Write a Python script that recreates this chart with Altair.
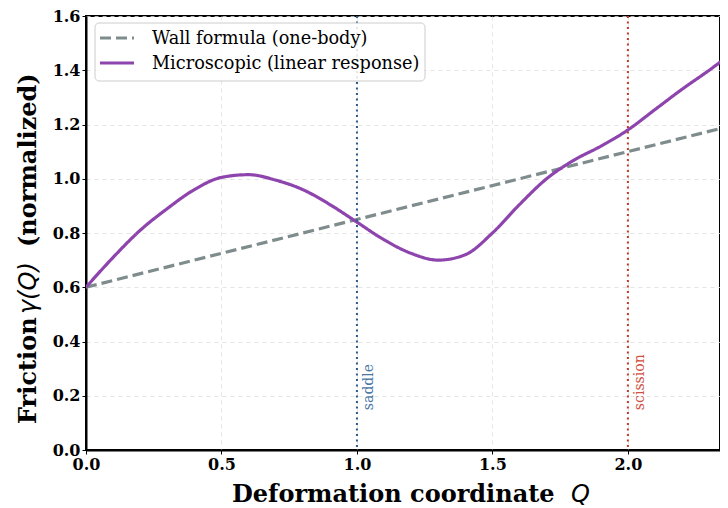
import altair as alt
import pandas as pd

# ---- data ----
micro_x = [0.0, 0.1, 0.2, 0.3, 0.4, 0.5, 0.6, 0.7, 0.8, 0.9, 1.0, 1.1, 1.2, 1.3,
           1.4, 1.5, 1.6, 1.7, 1.8, 1.9, 2.0, 2.1, 2.2, 2.3, 2.37]
micro_y = [0.60, 0.71, 0.81, 0.89, 0.96, 1.005, 1.015, 0.995, 0.96, 0.905, 0.84,
           0.775, 0.725, 0.70, 0.72, 0.80, 0.905, 1.00, 1.068, 1.12, 1.18, 1.255,
           1.33, 1.40, 1.452]
wall_x = [0.0, 2.37]
wall_y = [0.60, 1.1925]

series_names = ["Wall formula (one-body)", "Microscopic (linear response)"]
series_colors = ["#7f8c8d", "#8e44ad"]
series_dash = [[11, 5], [1, 0]]

marker_x = [1.0, 2.0]
marker_labels = ["saddle", "scission"]
marker_line_colors = ["#2c5a88", "#c0392b"]
marker_text_colors = ["#4a77a6", "#d0503f"]

x_ticks = [0.0, 0.5, 1.0, 1.5, 2.0]
y_ticks = [0.0, 0.2, 0.4, 0.6, 0.8, 1.0, 1.2, 1.4, 1.6]

# title pieces: (text, font, weight, style)
x_title_parts = [("Deformation coordinate", "DejaVu Serif", "bold", "normal"),
                 ("Q", "DejaVu Sans", "normal", "italic")]
y_title_parts = [("Friction", "DejaVu Serif", "bold", "normal"),
                 ("γ(Q)", "DejaVu Sans", "normal", "italic"),
                 ("(normalized)", "DejaVu Serif", "bold", "normal")]

W, H = 634, 434
TITLE_SIZE = 24

rows = []
for x, y in zip(wall_x, wall_y):
    rows.append({"Q": x, "gamma": y, "series": series_names[0]})
for x, y in zip(micro_x, micro_y):
    rows.append({"Q": x, "gamma": y, "series": series_names[1]})
df = pd.DataFrame(rows)

markers = pd.DataFrame({
    "Q": marker_x,
    "label": marker_labels,
    "lc": marker_line_colors,
    "tc": marker_text_colors,
})
markers["Qtext"] = markers["Q"] + 0.045
markers["ytext"] = 0.147

xscale = alt.Scale(domain=[0, 2.34], nice=False, zero=False)
yscale = alt.Scale(domain=[0, 1.6], nice=False)

xaxis = alt.Axis(values=x_ticks, format=".1f", title=None, grid=True)
yaxis = alt.Axis(values=y_ticks, format=".1f", title=None, grid=True)

lines = alt.Chart(df).mark_line(clip=True, strokeWidth=3.2, interpolate="monotone").encode(
    x=alt.X("Q:Q", scale=xscale, axis=xaxis),
    y=alt.Y("gamma:Q", scale=yscale, axis=yaxis),
    color=alt.Color("series:N", scale=alt.Scale(domain=series_names, range=series_colors),
                    legend=None),
    strokeDash=alt.StrokeDash("series:N", scale=alt.Scale(domain=series_names, range=series_dash),
                              legend=None),
    order=alt.Order("Q:Q"),
)

rules = alt.Chart(markers).mark_rule(strokeDash=[2, 3.5], strokeWidth=2).encode(
    x=alt.X("Q:Q", scale=xscale),
    color=alt.Color("lc:N", scale=None),
)

labels = alt.Chart(markers).mark_text(angle=270, align="left", baseline="middle",
                                      font="DejaVu Serif", fontSize=14).encode(
    x=alt.X("Qtext:Q", scale=xscale),
    y=alt.Y("ytext:Q", scale=yscale),
    text="label:N",
    color=alt.Color("tc:N", scale=None),
)

# ---- legend box (layout in pixels of the plot area) ----
one = pd.DataFrame({"k": [0]})
legend_layers = [
    alt.Chart(one).mark_rect(fill="white", fillOpacity=0.85, stroke="#cccccc",
                             strokeWidth=1, cornerRadius=4).encode(
        x=alt.value(9), x2=alt.value(339), y=alt.value(7), y2=alt.value(65))
]
row_y = [22, 47]
for name, col, dash, ry in zip(series_names, series_colors, series_dash, row_y):
    legend_layers.append(
        alt.Chart(one).mark_rule(color=col, strokeWidth=3, strokeDash=dash).encode(
            x=alt.value(14), x2=alt.value(48), y=alt.value(ry))
    )
    legend_layers.append(
        alt.Chart(pd.DataFrame({"t": [name]})).mark_text(
            align="left", baseline="middle", font="DejaVu Serif", fontSize=17.7,
            color="black").encode(text="t:N", x=alt.value(66), y=alt.value(ry + 1))
    )

# ---- axis titles, built as pieces so the math part can be italic ----
title_layers = []
x_pos = [146, 485]
for (txt, fnt, wt, st), px in zip(x_title_parts, x_pos):
    title_layers.append(
        alt.Chart(pd.DataFrame({"t": [txt]})).mark_text(
            align="left", baseline="alphabetic", font=fnt, fontWeight=wt,
            fontStyle=st, fontSize=TITLE_SIZE, color="black",
        ).encode(text="t:N", x=alt.value(px), y=alt.value(486))
    )
y_pos = [408, 298, 231]
for (txt, fnt, wt, st), py in zip(y_title_parts, y_pos):
    title_layers.append(
        alt.Chart(pd.DataFrame({"t": [txt]})).mark_text(
            align="left", baseline="alphabetic", angle=270, font=fnt, fontWeight=wt,
            fontStyle=st, fontSize=TITLE_SIZE, color="black",
        ).encode(text="t:N", x=alt.value(-50), y=alt.value(py))
    )

chart = alt.layer(lines, rules, labels, *legend_layers, *title_layers).properties(
    width=W, height=H,
    autosize=alt.AutoSizeParams(type="none"),
    padding={"left": 78, "top": 8, "right": 0, "bottom": 58},
).configure_view(
    stroke="black", strokeWidth=2,
).configure_axis(
    labelFont="DejaVu Serif", labelFontWeight="bold", labelFontSize=16, labelColor="black",
    domainColor="black", domainWidth=2, tickColor="black", tickSize=4, tickWidth=1,
    gridColor="#dddddd", gridDash=[4, 4], gridWidth=0.8, labelPadding=2,
).configure_axisX(
    labelFlush=False,
).configure_axisY(
    labelFlush=False,
)

chart.save("out.html", embed_options={"renderer": "svg", "actions": False})
